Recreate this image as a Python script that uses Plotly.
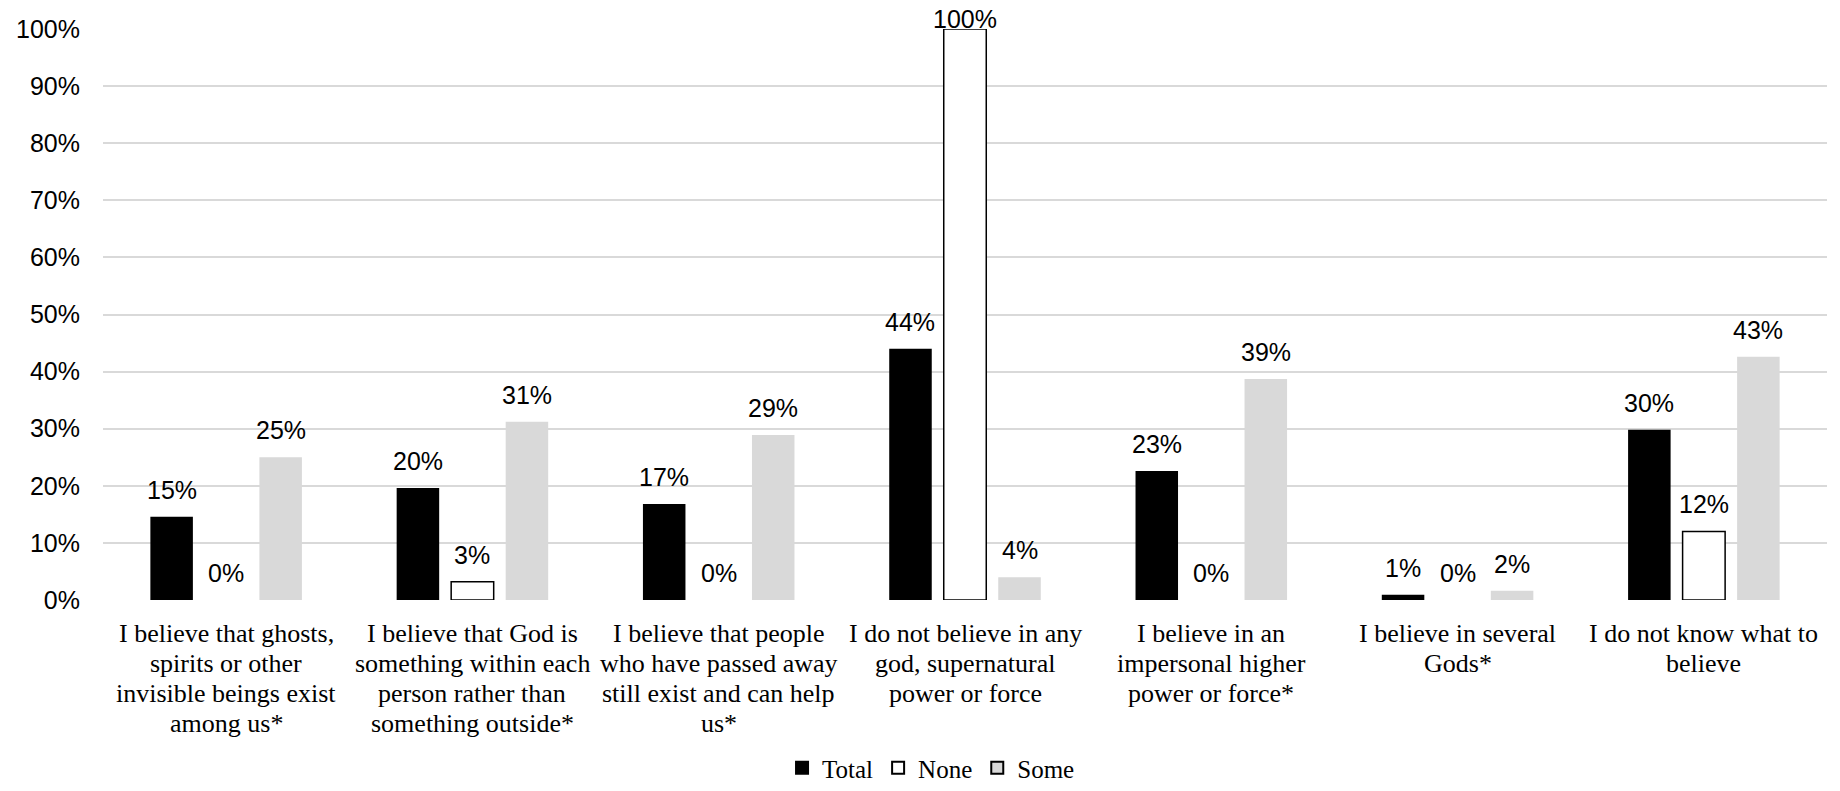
import plotly.graph_objects as go

# Category labels, one list entry per printed line
category_lines = [
    ["I believe that ghosts,", "spirits or other", "invisible beings exist", "among us*"],
    ["I believe that God is", "something within each", "person rather than", "something outside*"],
    ["I believe that people", "who have passed away", "still exist and can help", "us*"],
    ["I do not believe in any", "god, supernatural", "power or force"],
    ["I believe in an", "impersonal higher", "power or force*"],
    ["I believe in several", "Gods*"],
    ["I do not know what to", "believe"],
]
categories = [" ".join(lines) for lines in category_lines]

series_names = ["Total", "None", "Some"]
total = [0.146, 0.196, 0.168, 0.440, 0.226, 0.009, 0.298]
none = [0.0, 0.032, 0.0, 1.0, 0.0, 0.0, 0.12]
some = [0.250, 0.312, 0.289, 0.040, 0.387, 0.016, 0.426]

y_tick_vals = [0.0, 0.1, 0.2, 0.3, 0.4, 0.5, 0.6, 0.7, 0.8, 0.9, 1.0]
y_tick_text = ["0%", "10%", "20%", "30%", "40%", "50%", "60%", "70%", "80%", "90%", "100%"]

# Figure geometry and styling
W, H = 1840, 791
margin = dict(l=103, r=13, t=29, b=191)
bargap = 0.336
bargroupgap = 0.22
sans = "Liberation Sans, Arial, sans-serif"
serif = "Liberation Serif, Times New Roman, serif"
fills = ["#000000", "#FFFFFF", "#D9D9D9"]
outlines = [0, 1.5, 0]

fig = go.Figure()
for name, vals, fill, lw in zip(series_names, [total, none, some], fills, outlines):
    # empty bars get no outline so nothing is drawn on the baseline
    widths = [lw if v > 0 else 0 for v in vals]
    fig.add_bar(
        name=name,
        x=categories,
        y=vals,
        marker=dict(color=fill, line=dict(color="#000000", width=widths)),
        hoverinfo="skip",
    )

# Horizontal pixel offset of each series within its category group
plot_w = W - margin["l"] - margin["r"]
slot = plot_w / len(categories) * (1 - bargap) / len(series_names)
offsets = [(i - (len(series_names) - 1) / 2) * slot for i in range(len(series_names))]

annotations = []
# Value labels above each bar; a full-height bar keeps its label inside the frame
for vals, dx in zip([total, none, some], offsets):
    for cat, v in zip(categories, vals):
        annotations.append(dict(
            x=cat, y=v, xref="x", yref="y",
            text=f"{round(v * 100):.0f}%",
            showarrow=False, xanchor="center", yanchor="bottom",
            xshift=dx, yshift=11 if v < 0.95 else -6,
            font=dict(family=sans, size=25, color="#000000"),
        ))

# Multi-line category labels under the axis
for cat, lines in zip(categories, category_lines):
    for i, line in enumerate(lines):
        annotations.append(dict(
            x=cat, y=0, xref="x", yref="y",
            text=line, showarrow=False,
            xanchor="center", yanchor="middle",
            yshift=-(33 + 30 * i),
            font=dict(family=serif, size=26, color="#000000"),
        ))

fig.update_layout(
    width=W, height=H,
    margin=margin,
    paper_bgcolor="#FFFFFF",
    plot_bgcolor="#FFFFFF",
    barmode="group",
    bargap=bargap,
    bargroupgap=bargroupgap,
    annotations=annotations,
    showlegend=True,
    legend=dict(
        orientation="h",
        xref="container", yref="container",
        x=0.506, y=0,
        xanchor="center", yanchor="bottom",
        font=dict(family=serif, size=25, color="#000000"),
        itemsizing="constant",
        traceorder="normal",
        bgcolor="rgba(0,0,0,0)",
    ),
    xaxis=dict(
        type="category",
        showticklabels=False,
        showgrid=False,
        zeroline=False,
        showline=False,
        ticks="",
    ),
    yaxis=dict(
        range=[0, 1],
        tickvals=y_tick_vals,
        ticktext=y_tick_text,
        showgrid=True,
        gridcolor="#D9D9D9",
        gridwidth=1.5,
        zeroline=False,
        showline=False,
        ticks="",
        ticklabelstandoff=22,
        tickfont=dict(family=sans, size=25, color="#000000"),
        fixedrange=True,
    ),
)

fig.write_html("out.html", config={"displayModeBar": False})
